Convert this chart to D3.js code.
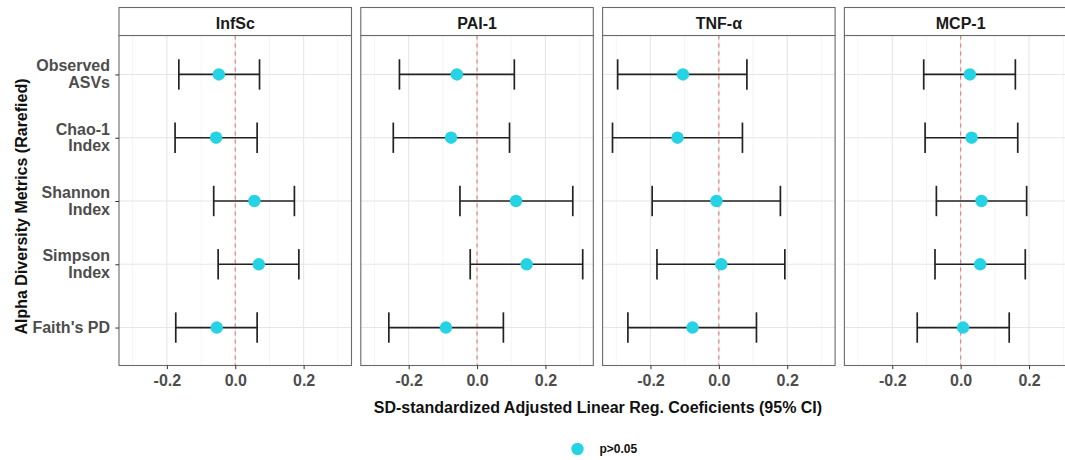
<!DOCTYPE html>
<html>
<head>
<meta charset="utf-8">
<script src="https://cdn.jsdelivr.net/npm/d3@7"></script>
<style>
  body { margin: 0; background: #fff; }
  svg { display: block; font-family: "Liberation Sans", Arial, sans-serif; }
</style>
</head>
<body>
<div id="chart"></div>
<script>
// outcomes (facets) and diversity metrics (rows)
const outcomes = ["InfSc", "PAI-1", "TNF-\u03b1", "MCP-1"];
const metrics = ["Observed ASVs", "Chao-1 Index", "Shannon Index", "Simpson Index", "Faith's PD"];
const metricLabels = [["Observed", "ASVs"], ["Chao-1", "Index"], ["Shannon", "Index"], ["Simpson", "Index"], ["Faith's PD"]];

// estimates and 95% CI per outcome, rows in metric order
const estimate = [
  [-0.048, -0.056, 0.056, 0.069, -0.054],
  [-0.059, -0.076, 0.114, 0.145, -0.091],
  [-0.105, -0.121, -0.007, 0.007, -0.077],
  [0.027, 0.032, 0.061, 0.057, 0.007]
];
const lower = [
  [-0.165, -0.176, -0.063, -0.050, -0.174],
  [-0.227, -0.245, -0.050, -0.020, -0.258],
  [-0.296, -0.311, -0.195, -0.181, -0.266],
  [-0.108, -0.104, -0.071, -0.075, -0.127]
];
const upper = [
  [0.071, 0.064, 0.173, 0.186, 0.064],
  [0.109, 0.095, 0.280, 0.309, 0.077],
  [0.082, 0.069, 0.180, 0.193, 0.110],
  [0.160, 0.167, 0.193, 0.189, 0.142]
];
const xTicks = [-0.2, 0.0, 0.2];
const xMinor = [-0.3, -0.1, 0.1, 0.3];
const legendLabel = "p>0.05";

const width = 1065, height = 460;
const panelLeft = 119, panelW = 232.5, gap = 9.3;
const stripTop = 7.5, panelTop = 35.5, panelBottom = 365.5;
const pointColor = "#26d3e4";
const borderColor = "#6a6a6a";
const tickText = "#4d4d4d";

const svg = d3.select("#chart").append("svg")
    .attr("width", width)
    .attr("height", height);

const y = d3.scalePoint()
    .domain(metrics)
    .range([panelTop + 1, panelBottom])
    .padding(0.6);

const capH = y.step() * 0.48;

outcomes.forEach(function (name, i) {
    const x0 = panelLeft + i * (panelW + gap);
    const x = d3.scaleLinear().domain([-0.34, 0.34]).range([x0, x0 + panelW]);
    const g = svg.append("g");

    // panel background + grid
    g.append("rect")
        .attr("x", x0).attr("y", panelTop)
        .attr("width", panelW).attr("height", panelBottom - panelTop)
        .attr("fill", "#fff");

    g.selectAll(".minor").data(xMinor).enter().append("line")
        .attr("x1", d => x(d)).attr("x2", d => x(d))
        .attr("y1", panelTop).attr("y2", panelBottom)
        .attr("stroke", "#f2f2f2").attr("stroke-width", 0.8);

    g.selectAll(".major").data(xTicks).enter().append("line")
        .attr("x1", d => x(d)).attr("x2", d => x(d))
        .attr("y1", panelTop).attr("y2", panelBottom)
        .attr("stroke", "#e6e6e6").attr("stroke-width", 1.1);

    g.selectAll(".hgrid").data(metrics).enter().append("line")
        .attr("x1", x0).attr("x2", x0 + panelW)
        .attr("y1", d => y(d)).attr("y2", d => y(d))
        .attr("stroke", "#e6e6e6").attr("stroke-width", 1.1);

    // zero reference
    g.append("line")
        .attr("x1", x(0)).attr("x2", x(0))
        .attr("y1", panelTop).attr("y2", panelBottom)
        .attr("stroke", "#e88080").attr("stroke-width", 1.2)
        .attr("stroke-dasharray", "4,4");

    // error bars
    const rows = metrics.map(function (m, j) {
        return { m: m, est: estimate[i][j], lo: lower[i][j], hi: upper[i][j] };
    });
    const eb = g.selectAll(".eb").data(rows).enter().append("g")
        .attr("stroke", "#222").attr("stroke-width", 1.7);
    eb.append("line")
        .attr("x1", d => x(d.lo)).attr("x2", d => x(d.hi))
        .attr("y1", d => y(d.m)).attr("y2", d => y(d.m));
    eb.append("line")
        .attr("x1", d => x(d.lo)).attr("x2", d => x(d.lo))
        .attr("y1", d => y(d.m) - capH / 2).attr("y2", d => y(d.m) + capH / 2);
    eb.append("line")
        .attr("x1", d => x(d.hi)).attr("x2", d => x(d.hi))
        .attr("y1", d => y(d.m) - capH / 2).attr("y2", d => y(d.m) + capH / 2);

    g.selectAll(".pt").data(rows).enter().append("circle")
        .attr("cx", d => x(d.est)).attr("cy", d => y(d.m))
        .attr("r", 6.2)
        .attr("fill", pointColor);

    // border
    g.append("rect")
        .attr("x", x0).attr("y", panelTop)
        .attr("width", panelW).attr("height", panelBottom - panelTop)
        .attr("fill", "none").attr("stroke", borderColor).attr("stroke-width", 1.1);

    // strip
    g.append("rect")
        .attr("x", x0).attr("y", stripTop)
        .attr("width", panelW).attr("height", panelTop - stripTop)
        .attr("fill", "#fff").attr("stroke", borderColor).attr("stroke-width", 1.1);
    g.append("text")
        .attr("x", x0 + panelW / 2).attr("y", 29)
        .attr("text-anchor", "middle")
        .attr("font-size", 16).attr("font-weight", "bold")
        .attr("fill", "#1a1a1a")
        .text(name);

    // x axis
    const xAxis = d3.axisBottom(x)
        .tickValues(xTicks)
        .tickSize(3.7)
        .tickPadding(5)
        .tickFormat(d => d.toFixed(1));
    const ax = g.append("g")
        .attr("transform", "translate(0," + panelBottom + ")")
        .call(xAxis);
    ax.select(".domain").remove();
    ax.selectAll(".tick line").attr("stroke", "#333");
    ax.selectAll(".tick text")
        .attr("font-size", 16).attr("font-weight", "bold")
        .attr("font-family", "Liberation Sans, Arial, sans-serif")
        .attr("fill", tickText)
        .attr("dy", "0.71em");
});

// y axis (left of first panel)
const yAxis = d3.axisLeft(y).tickSize(3.7).tickFormat("");
const ay = svg.append("g")
    .attr("transform", "translate(" + panelLeft + ",0)")
    .call(yAxis);
ay.select(".domain").remove();
ay.selectAll(".tick line").attr("stroke", "#333");

const ylab = svg.append("g").selectAll("text")
    .data(metrics).enter().append("text")
    .attr("text-anchor", "end")
    .attr("font-size", 16).attr("font-weight", "bold")
    .attr("fill", tickText);
ylab.each(function (d, j) {
    const lines = metricLabels[j];
    const t = d3.select(this);
    const c = y(d);
    lines.forEach(function (ln, k) {
        const by = lines.length === 1 ? c + 5.5 : c - 3 + k * 16.7;
        t.append("tspan").attr("x", 110).attr("y", by).text(ln);
    });
});

// axis titles
svg.append("text")
    .attr("transform", "translate(27,206.5) rotate(-90)")
    .attr("text-anchor", "middle")
    .attr("font-size", 16).attr("font-weight", "bold")
    .attr("fill", "#111")
    .text("Alpha Diversity Metrics (Rarefied)");

svg.append("text")
    .attr("x", panelLeft + (4 * panelW + 3 * gap) / 2).attr("y", 413)
    .attr("text-anchor", "middle")
    .attr("font-size", 16).attr("font-weight", "bold")
    .attr("fill", "#111")
    .text("SD-standardized Adjusted Linear Reg. Coeficients (95% CI)");

// legend
const legend = svg.append("g").attr("transform", "translate(577.5,449)");
legend.append("circle").attr("r", 6.2).attr("fill", pointColor);
legend.append("text")
    .attr("x", 22).attr("y", 4.3)
    .attr("font-size", 12).attr("font-weight", "bold")
    .attr("fill", "#111")
    .text(legendLabel);
</script>
</body>
</html>
